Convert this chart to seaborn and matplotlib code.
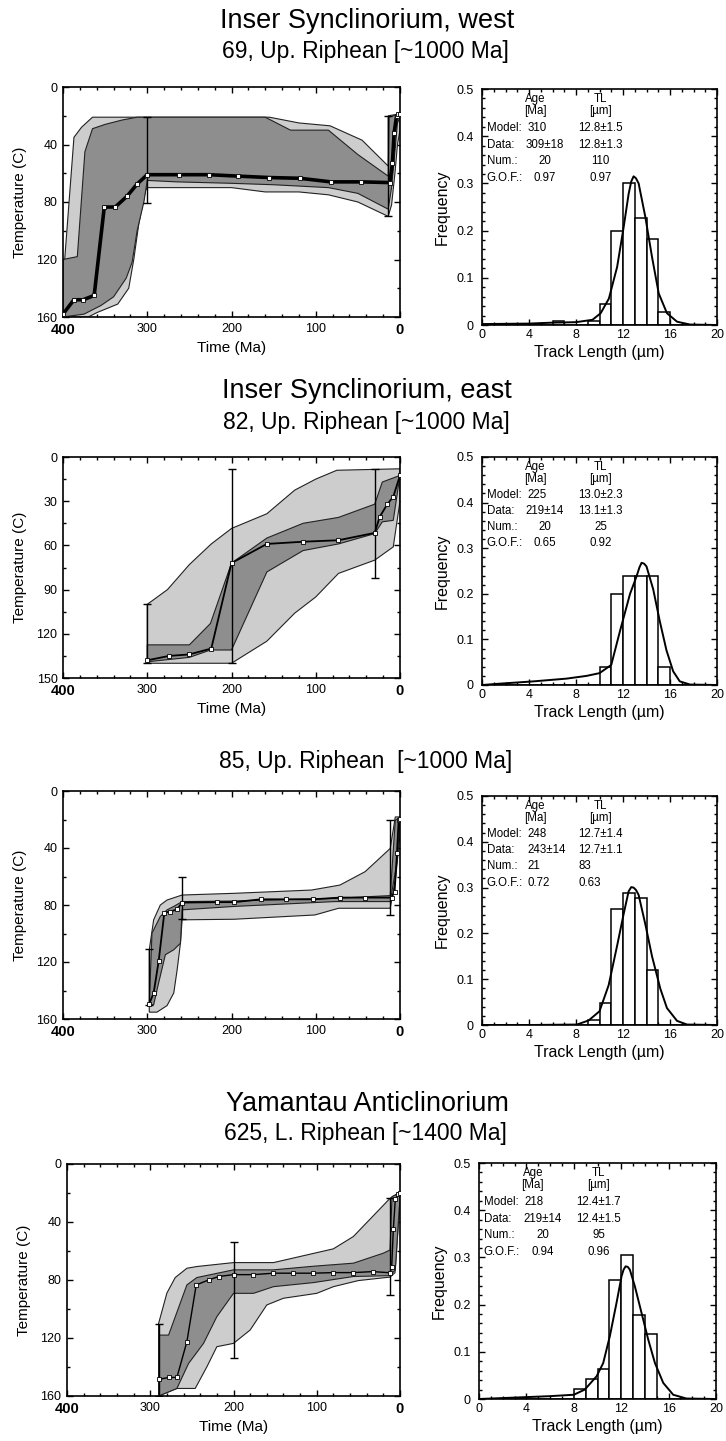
import numpy as np
import pandas as pd
import matplotlib
matplotlib.use("Agg")
import matplotlib.pyplot as plt
from matplotlib.ticker import MultipleLocator
import seaborn as sns

# ------------------------------------------------------------------ data
# ---- Panel 1: sample 69 (Inser Synclinorium, west)
p1_best_t = [400, 387, 376, 363, 351, 338, 324, 312, 300, 262, 227, 192, 155, 119, 82, 46, 12, 9, 7, 4, 2, 0]
p1_best_T = [158, 148, 148, 145, 83.5, 83.5, 76, 67.5, 61, 61, 61, 62, 63, 63.5, 66, 66, 66.5, 53, 32, 20, 19, 19]
p1_acc_up_t = [400, 398, 387, 378, 365, 300, 155, 120, 83, 45, 14, 14, 3, 0]
p1_acc_up_T = [120, 120, 35, 28, 21, 21, 21, 25, 27, 37, 55, 20, 19, 19]
p1_acc_lo_t = [400, 370, 360, 335, 322, 316, 310, 302, 300, 200, 160, 120, 85, 50, 14, 10, 6, 3, 0]
p1_acc_lo_T = [160, 160, 157, 151, 140, 120, 95, 72, 70, 70, 73, 73, 75, 80, 90, 82, 60, 40, 30]
p1_good_up_t = [400, 383, 374, 365, 350, 330, 312, 160, 130, 85, 50, 14, 13, 3, 0]
p1_good_up_T = [120, 118, 45, 29, 26, 23, 21, 21, 30, 30, 47, 62, 21, 19, 19]
p1_good_lo_t = [400, 375, 355, 340, 325, 318, 312, 304, 300, 265, 200, 150, 85, 50, 14, 10, 6, 3, 0]
p1_good_lo_T = [160, 158, 152, 146, 133, 122, 100, 80, 65, 66, 67, 68, 70, 74, 85, 70, 45, 25, 21]
p1_con_t = [300, 14]
p1_con_lo = [21, 20]
p1_con_hi = [81, 90]
p1_len_bin = [6, 9, 10, 11, 12, 13, 14, 15]
p1_len_freq = [0.009, 0.009, 0.045, 0.2, 0.3, 0.227, 0.182, 0.027]
p1_mod_x = [0, 4, 6, 8, 9.4, 10.1, 10.8, 11.5, 12.06, 12.48, 12.7, 12.9, 13.1, 13.33, 13.9, 14.47, 15.04, 15.74, 16.6, 17.7, 20]
p1_mod_y = [0.002, 0.003, 0.005, 0.006, 0.011, 0.025, 0.056, 0.123, 0.208, 0.278, 0.304, 0.315, 0.311, 0.3, 0.229, 0.144, 0.067, 0.025, 0.007, 0.001, 0]
p1_stats = [["Model:", "310", "12.8±1.5"], ["Data:", "309±18", "12.8±1.3"],
            ["Num.:", "20", "110"], ["G.O.F.:", "0.97", "0.97"]]

# ---- Panel 2: sample 82 (Inser Synclinorium, east)
p2_best_t = [300, 274, 250, 224, 200, 158, 115, 73, 30, 24, 15, 8, 0]
p2_best_T = [138, 135, 134, 130, 72, 59, 57.5, 56.5, 51.5, 40.5, 32, 27, 12.5]
p2_acc_up_t = [300, 276, 250, 224, 200, 158, 125, 100, 75, 0]
p2_acc_up_T = [100, 90, 73, 59, 48.5, 38.5, 22.5, 15, 9, 8]
p2_acc_lo_t = [300, 200, 158, 125, 100, 73, 30, 8, 0]
p2_acc_lo_T = [140, 140, 125, 106, 95, 79, 70, 61, 30]
p2_good_up_t = [300, 250, 225, 200, 158, 115, 73, 30, 21, 0]
p2_good_up_T = [127.5, 127.5, 113, 72, 55, 45, 41, 32, 17, 12.5]
p2_good_lo_t = [300, 250, 225, 200, 200, 158, 115, 73, 30, 21, 8, 0]
p2_good_lo_T = [139, 136, 131, 131, 131, 78, 63.5, 59, 52, 44, 43, 12.5]
p2_con_t = [300, 200, 30]
p2_con_lo = [100, 8, 8]
p2_con_hi = [140, 140, 82]
p2_len_bin = [10, 11, 12, 13, 14, 15]
p2_len_freq = [0.04, 0.2, 0.24, 0.24, 0.24, 0.04]
p2_mod_x = [0, 1.55, 4.4, 7.2, 8.9, 10.0, 11.0, 11.74, 12.6, 13.15, 13.4, 13.58, 13.8, 14.0, 14.57, 15.13, 15.7, 16.27, 16.83, 17.7, 20]
p2_mod_y = [0, 0.003, 0.008, 0.014, 0.02, 0.026, 0.044, 0.118, 0.2, 0.238, 0.258, 0.268, 0.266, 0.26, 0.21, 0.14, 0.076, 0.03, 0.008, 0.001, 0]
p2_stats = [["Model:", "225", "13.0±2.3"], ["Data:", "219±14", "13.1±1.3"],
            ["Num.:", "20", "25"], ["G.O.F.:", "0.65", "0.92"]]

# ---- Panel 3: sample 85
p3_best_t = [297.6, 292.4, 286.5, 279.7, 272.5, 264.5, 258.6, 216.7, 196.8, 165, 135, 103, 71, 41, 10, 6.4, 3.6, 1.6, 0]
p3_best_T = [149.4, 141.7, 119.6, 85.3, 84.6, 83, 78.3, 78, 78, 76, 76, 76, 74.8, 74.8, 74.8, 70.6, 43.8, 20.5, 19.3]
p3_acc_up_t = [297.6, 292.4, 284.5, 276.5, 258.6, 196.8, 105, 71.3, 41.4, 11.6, 5.6, 0]
p3_acc_up_T = [111.4, 90.4, 80, 76.5, 73, 71.8, 69.5, 66, 56.6, 40.3, 18.2, 18.2]
p3_acc_lo_t = [297.6, 288.5, 276.5, 268.5, 264.5, 260.6, 258.6, 196.8, 101, 73, 11.6, 5, 0]
p3_acc_lo_T = [155.2, 155.2, 150.6, 141.7, 125.4, 106.8, 90.4, 90, 87, 82.3, 82.3, 60, 30]
p3_good_up_t = [297.6, 294.4, 284.5, 276.5, 268.5, 258.6, 196.8, 77, 11.6, 5.6, 0]
p3_good_up_T = [150, 99.8, 88, 83.4, 81, 77.6, 77.2, 75.3, 73.4, 20.5, 18.2]
p3_good_lo_t = [297.6, 292.4, 286.5, 278.5, 268.5, 260.6, 258.6, 196.8, 77, 11.6, 3.6, 0]
p3_good_lo_T = [150, 150, 134.7, 114.9, 111.4, 106.8, 83.4, 81, 77.6, 77.6, 50, 20]
p3_con_t = [297.6, 258.6, 12]
p3_con_lo = [111, 60, 20]
p3_con_hi = [150, 90, 87]
p3_len_bin = [9, 10, 11, 12, 13, 14]
p3_len_freq = [0.012, 0.048, 0.253, 0.289, 0.277, 0.12]
p3_mod_x = [0, 4, 8.08, 9.08, 10.0, 10.78, 11.49, 12.06, 12.48, 12.7, 12.9, 13.1, 13.33, 13.9, 14.47, 15.18, 15.74, 16.6, 17.45, 20]
p3_mod_y = [0, 0.0, 0.001, 0.01, 0.03, 0.087, 0.172, 0.243, 0.292, 0.301, 0.3, 0.295, 0.284, 0.22, 0.15, 0.079, 0.037, 0.009, 0.001, 0]
p3_stats = [["Model:", "248", "12.7±1.4"], ["Data:", "243±14", "12.7±1.1"],
            ["Num.:", "21", "83"], ["G.O.F.:", "0.72", "0.63"]]

# ---- Panel 4: sample 625 (Yamantau Anticlinorium)
p4_best_t = [290, 278, 268, 256, 244.8, 230, 218, 200, 176, 152, 128, 104, 80, 56, 32.8, 12, 10, 8, 5.6, 2, 0]
p4_best_T = [148.6, 147.2, 147.2, 122.6, 83.4, 80, 77.6, 76.3, 76.3, 75.3, 75.3, 75.3, 74.9, 74.9, 74.2, 75, 71, 45, 24, 21, 20]
p4_acc_up_t = [290, 280, 270, 256, 244, 200, 152, 80, 56, 12, 3, 0]
p4_acc_up_T = [110, 89, 78.3, 71.9, 70.7, 68, 68, 58.5, 50, 23.7, 20.3, 19]
p4_acc_lo_t = [290, 268, 246, 232, 220, 200, 180, 160, 140, 100, 80, 50, 12, 6, 2, 0]
p4_acc_lo_T = [160, 154.8, 154.8, 139.9, 126, 123.7, 114.5, 97.2, 92.6, 89.2, 84.6, 80.4, 78, 75, 42, 31]
p4_good_up_t = [290, 278, 256, 244, 200, 152, 104, 56, 20, 12, 9.6, 0]
p4_good_up_T = [118, 118, 83.4, 78.3, 73, 73, 70.5, 68.4, 61.5, 59.3, 22.5, 20]
p4_good_lo_t = [290, 268, 254, 236, 220, 200, 176, 152, 104, 56, 12, 5.6, 1, 0]
p4_good_lo_T = [160, 154.8, 137.6, 123.7, 105.3, 89.2, 89.2, 84.6, 81.8, 77.6, 77, 73, 31, 25]
p4_con_t = [290, 200, 12]
p4_con_lo = [110, 54, 23.7]
p4_con_hi = [160, 133.6, 90.3]
p4_len_bin = [8, 9, 10, 11, 12, 13, 14]
p4_len_freq = [0.021, 0.042, 0.063, 0.253, 0.305, 0.179, 0.137]
p4_mod_x = [0, 4, 5.97, 8, 8.93, 9.92, 10.48, 11.04, 11.6, 12.03, 12.2, 12.37, 12.55, 12.73, 13.15, 13.72, 14.28, 14.85, 15.55, 16.39, 17.5, 20]
p4_mod_y = [0, 0.004, 0.006, 0.009, 0.02, 0.048, 0.076, 0.133, 0.203, 0.26, 0.274, 0.281, 0.28, 0.274, 0.239, 0.182, 0.126, 0.076, 0.034, 0.009, 0.001, 0]
p4_stats = [["Model:", "218", "12.4±1.7"], ["Data:", "219±14", "12.4±1.5"],
            ["Num.:", "20", "95"], ["G.O.F.:", "0.94", "0.96"]]

titles = ["Inser Synclinorium, west", "Inser Synclinorium, east", None, "Yamantau Anticlinorium"]
subtitles = ["69, Up. Riphean [~1000 Ma]", "82, Up. Riphean [~1000 Ma]",
             "85, Up. Riphean  [~1000 Ma]", "625, L. Riphean [~1400 Ma]"]
time_ticks = [400, 300, 200, 100, 0]
temp_ticks_a = [0, 40, 80, 120, 160]
temp_ticks_b = [0, 30, 60, 90, 120, 150]
len_ticks = [0, 4, 8, 12, 16, 20]
freq_ticks = [0, 0.1, 0.2, 0.3, 0.4, 0.5]

# ------------------------------------------------------------------ style
sns.set_theme(style="ticks")
plt.rcParams["font.family"] = ["Liberation Sans", "DejaVu Sans"]
plt.rcParams["axes.linewidth"] = 1.2
for key in ("text.color", "axes.labelcolor", "xtick.color", "ytick.color", "axes.edgecolor"):
    plt.rcParams[key] = "black"

LIGHT = "#cdcdcd"
DARK = "#8e8e8e"

W, H = 726, 1441
fig = plt.figure(figsize=(W / 100, H / 100), dpi=100)


def rect(l, t, r, b):
    return [l / W, 1 - b / H, (r - l) / W, (b - t) / H]


layout = [
    dict(L=(63, 87, 400, 317), R=(482, 89, 717, 325), title=28, sub=58, tlabel=True),
    dict(L=(63, 457, 400, 678), R=(482, 457, 717, 685), title=398, sub=429, tlabel=True),
    dict(L=(63, 791, 400, 1019), R=(482, 796, 717, 1025), title=None, sub=768, tlabel=False),
    dict(L=(67, 1164, 400, 1396), R=(479, 1163, 716, 1399), title=1111, sub=1140, tlabel=True),
]

panels = [
    dict(best=(p1_best_t, p1_best_T), acc=(p1_acc_up_t, p1_acc_up_T, p1_acc_lo_t, p1_acc_lo_T),
         good=(p1_good_up_t, p1_good_up_T, p1_good_lo_t, p1_good_lo_T),
         con=(p1_con_t, p1_con_lo, p1_con_hi), hist=(p1_len_bin, p1_len_freq),
         mod=(p1_mod_x, p1_mod_y), stats=p1_stats, ymax=160, yt=temp_ticks_a, ymin=20, lw=2.6, left=False),
    dict(best=(p2_best_t, p2_best_T), acc=(p2_acc_up_t, p2_acc_up_T, p2_acc_lo_t, p2_acc_lo_T),
         good=(p2_good_up_t, p2_good_up_T, p2_good_lo_t, p2_good_lo_T),
         con=(p2_con_t, p2_con_lo, p2_con_hi), hist=(p2_len_bin, p2_len_freq),
         mod=(p2_mod_x, p2_mod_y), stats=p2_stats, ymax=150, yt=temp_ticks_b, ymin=15, lw=1.3, left=False),
    dict(best=(p3_best_t, p3_best_T), acc=(p3_acc_up_t, p3_acc_up_T, p3_acc_lo_t, p3_acc_lo_T),
         good=(p3_good_up_t, p3_good_up_T, p3_good_lo_t, p3_good_lo_T),
         con=(p3_con_t, p3_con_lo, p3_con_hi), hist=(p3_len_bin, p3_len_freq),
         mod=(p3_mod_x, p3_mod_y), stats=p3_stats, ymax=160, yt=temp_ticks_a, ymin=20, lw=1.3, left=True),
    dict(best=(p4_best_t, p4_best_T), acc=(p4_acc_up_t, p4_acc_up_T, p4_acc_lo_t, p4_acc_lo_T),
         good=(p4_good_up_t, p4_good_up_T, p4_good_lo_t, p4_good_lo_T),
         con=(p4_con_t, p4_con_lo, p4_con_hi), hist=(p4_len_bin, p4_len_freq),
         mod=(p4_mod_x, p4_mod_y), stats=p4_stats, ymax=160, yt=temp_ticks_a, ymin=20, lw=1.0, left=False),
]


def style_ticks(ax):
    ax.tick_params(which="both", direction="in", top=True, right=True, width=1.0, color="black")
    ax.tick_params(which="major", length=4.5)
    ax.tick_params(which="minor", length=2.5)
    for s in ax.spines.values():
        s.set_linewidth(1.2)
        s.set_color("black")


for i, (lay, p) in enumerate(zip(layout, panels)):
    # ---------------- titles
    if titles[i] is not None:
        fig.text(0.506, 1 - lay["title"] / H, titles[i], ha="center", va="baseline", fontsize=19.5)
    fig.text(0.504, 1 - lay["sub"] / H, subtitles[i], ha="center", va="baseline", fontsize=16.5)

    # ---------------- thermal history panel
    ax = fig.add_axes(rect(*lay["L"]))
    ut, uT, lt, lT = p["acc"]
    ax.fill(list(ut) + list(lt)[::-1], list(uT) + list(lT)[::-1], facecolor=LIGHT,
            edgecolor="#222222", linewidth=0.8, zorder=1)
    ut, uT, lt, lT = p["good"]
    ax.fill(list(ut) + list(lt)[::-1], list(uT) + list(lT)[::-1], facecolor=DARK,
            edgecolor="#222222", linewidth=0.8, zorder=2)
    ct, clo, chi = p["con"]
    ax.errorbar(ct, clo, yerr=[np.zeros(len(ct)), np.array(chi) - np.array(clo)], fmt="none",
                ecolor="black", elinewidth=1.0, capsize=3, capthick=1.0, zorder=3)
    bt, bT = p["best"]
    best_df = pd.DataFrame({"t": bt, "T": bT})
    sns.lineplot(data=best_df, x="t", y="T", ax=ax, sort=False, estimator=None, color="black",
                 linewidth=p["lw"], marker="s", markersize=3, markerfacecolor="white",
                 markeredgecolor="black", markeredgewidth=0.6, zorder=4)
    ax.set_xlim(400, 0)
    ax.set_ylim(p["ymax"], 0)
    ax.set_xticks(time_ticks)
    ax.set_xticklabels([str(v) for v in time_ticks])
    ax.set_yticks(p["yt"])
    ax.set_yticklabels([str(v) for v in p["yt"]])
    ax.xaxis.set_minor_locator(MultipleLocator(20))
    ax.yaxis.set_minor_locator(MultipleLocator(p["ymin"]))
    style_ticks(ax)
    ax.tick_params(axis="both", which="major", labelsize=9, pad=4)
    xl = ax.get_xticklabels()
    for k in (0, -1):
        xl[k].set_fontweight("bold")
        xl[k].set_fontsize(10.5)
    ax.set_ylabel("Temperature (C)", fontsize=11, labelpad=7)
    if lay["tlabel"]:
        ax.set_xlabel("Time (Ma)", fontsize=11, labelpad=3)
    else:
        ax.set_xlabel("")

    # ---------------- track-length histogram
    axh = fig.add_axes(rect(*lay["R"]))
    hb, hf = p["hist"]
    hist_df = pd.DataFrame({"length": np.array(hb, dtype=float) + 0.5, "freq": np.array(hf, dtype=float)})
    sns.histplot(data=hist_df, x="length", weights="freq", binwidth=1, binrange=(0, 20), stat="count",
                 color="white", edgecolor="black", linewidth=1.1, alpha=1.0, ax=axh)
    mx, my = p["mod"]
    mod_df = pd.DataFrame({"x": mx, "y": my})
    sns.lineplot(data=mod_df, x="x", y="y", ax=axh, sort=False, estimator=None, color="black",
                 linewidth=1.4, zorder=3)
    axh.set_xlim(0, 20)
    axh.set_ylim(0, 0.5)
    axh.set_xticks(len_ticks)
    axh.set_xticklabels([str(v) for v in len_ticks])
    axh.set_yticks(freq_ticks)
    axh.set_yticklabels(["0", "0.1", "0.2", "0.3", "0.4", "0.5"])
    axh.xaxis.set_minor_locator(MultipleLocator(1))
    axh.yaxis.set_minor_locator(MultipleLocator(0.02))
    style_ticks(axh)
    axh.tick_params(axis="both", which="major", labelsize=9)
    axh.tick_params(axis="x", which="major", pad=3)
    axh.tick_params(axis="y", which="major", pad=6)
    axh.set_ylabel("Frequency", fontsize=11.5, labelpad=5)
    axh.set_xlabel("Track Length (µm)", fontsize=11.5, labelpad=3)

    fs = 8.3
    axh.text(0.227, 0.958, "Age", transform=axh.transAxes, ha="center", va="center", fontsize=fs)
    axh.text(0.227, 0.905, "[Ma]", transform=axh.transAxes, ha="center", va="center", fontsize=fs)
    axh.text(0.505, 0.958, "TL", transform=axh.transAxes, ha="center", va="center", fontsize=fs)
    axh.text(0.505, 0.905, "[µm]", transform=axh.transAxes, ha="center", va="center", fontsize=fs)
    rows_y = [0.835, 0.764, 0.693, 0.622]
    for r, (lab, age, tl) in enumerate(p["stats"]):
        y = rows_y[r]
        axh.text(0.02, y, lab, transform=axh.transAxes, ha="left", va="center", fontsize=fs)
        if p["left"]:
            axh.text(0.193, y, age, transform=axh.transAxes, ha="left", va="center", fontsize=fs)
            axh.text(0.41, y, tl, transform=axh.transAxes, ha="left", va="center", fontsize=fs)
        else:
            if r == 0:
                axh.text(0.193, y, age, transform=axh.transAxes, ha="left", va="center", fontsize=fs)
            else:
                axh.text(0.268, y, age, transform=axh.transAxes, ha="center", va="center", fontsize=fs)
            axh.text(0.505, y, tl, transform=axh.transAxes, ha="center", va="center", fontsize=fs)

fig.savefig("out.png", dpi=100)
